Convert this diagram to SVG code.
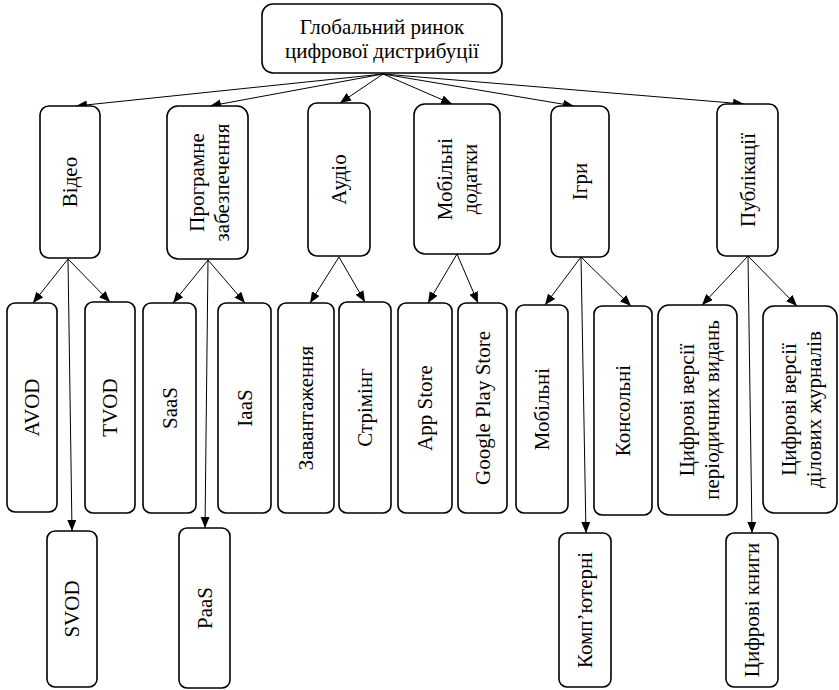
<svg xmlns="http://www.w3.org/2000/svg" width="839" height="690" viewBox="0 0 839 690">
<defs>
<style>
.box{fill:#fff;stroke:#000;stroke-width:1.6}
.t{font-family:"Liberation Serif","Times New Roman",serif;font-size:21px;fill:#000;text-anchor:middle}
.tt{font-family:"Liberation Serif","Times New Roman",serif;font-size:21px;fill:#000;text-anchor:middle}
.c{stroke:#000;stroke-width:1;fill:none;marker-end:url(#ah)}
</style>
<marker id="ah" markerUnits="userSpaceOnUse" markerWidth="12" markerHeight="10" refX="11" refY="4.5" orient="auto">
<path d="M0,0 L11,4.5 L0,9 z" fill="#000"/>
</marker>
</defs>
<rect width="839" height="690" fill="#fff"/>
<g id="connectors">
<line class="c" x1="383" y1="74" x2="76" y2="106"/>
<line class="c" x1="383" y1="74" x2="210" y2="106"/>
<line class="c" x1="383" y1="74" x2="340" y2="103"/>
<line class="c" x1="383" y1="74" x2="452" y2="104"/>
<line class="c" x1="383" y1="74" x2="574" y2="106"/>
<line class="c" x1="383" y1="74" x2="744" y2="104"/>
<line class="c" x1="68" y1="259" x2="33" y2="303"/>
<line class="c" x1="68" y1="259" x2="110" y2="302"/>
<line class="c" x1="68" y1="259" x2="72" y2="531"/>
<line class="c" x1="208" y1="260" x2="173" y2="303"/>
<line class="c" x1="208" y1="260" x2="245" y2="303"/>
<line class="c" x1="208" y1="260" x2="205" y2="528"/>
<line class="c" x1="339" y1="257" x2="310" y2="303"/>
<line class="c" x1="339" y1="257" x2="365" y2="302"/>
<line class="c" x1="457" y1="254" x2="428" y2="303"/>
<line class="c" x1="457" y1="254" x2="478" y2="303"/>
<line class="c" x1="581" y1="257" x2="545" y2="305"/>
<line class="c" x1="581" y1="257" x2="631" y2="306"/>
<line class="c" x1="581" y1="257" x2="586" y2="533"/>
<line class="c" x1="748" y1="256" x2="702" y2="305"/>
<line class="c" x1="748" y1="256" x2="797" y2="306"/>
<line class="c" x1="748" y1="256" x2="752" y2="533"/>
</g>
<g id="root"><rect class="box" x="262" y="4" width="240" height="69" rx="11"/><text class="tt" x="382" y="33.5">Глобальний ринок</text><text class="tt" x="382" y="57.5">цифрової дистрибуції</text></g>
<g id="video"><rect class="box" x="40" y="106" width="60" height="152" rx="9"/><text class="t" transform="translate(70,182) rotate(-90)" y="7">Відео</text></g>
<g id="software"><rect class="box" x="167" y="106" width="81" height="153" rx="11"/><text class="t" transform="translate(208.5,182.5) rotate(-90)"><tspan x="0" y="-5">Програмне</tspan><tspan x="0" y="20">забезпечення</tspan></text></g>
<g id="audio"><rect class="box" x="308" y="103" width="62" height="153" rx="9"/><text class="t" transform="translate(339,179.5) rotate(-90)" y="7">Аудіо</text></g>
<g id="mobileapps"><rect class="box" x="414" y="104" width="86" height="150" rx="11"/><text class="t" transform="translate(457,179) rotate(-90)"><tspan x="0" y="-5">Мобільні</tspan><tspan x="0" y="20">додатки</tspan></text></g>
<g id="games"><rect class="box" x="551" y="106" width="58" height="151" rx="9"/><text class="t" transform="translate(580,181.5) rotate(-90)" y="7">Ігри</text></g>
<g id="publications"><rect class="box" x="717" y="104" width="61" height="152" rx="9"/><text class="t" transform="translate(747.5,180) rotate(-90)" y="7">Публікації</text></g>
<g id="avod"><rect class="box" x="7" y="303" width="50" height="209" rx="8"/><text class="t" transform="translate(32,407.5) rotate(-90)" y="7">AVOD</text></g>
<g id="tvod"><rect class="box" x="85" y="302" width="50" height="211" rx="8"/><text class="t" transform="translate(110,407.5) rotate(-90)" y="7">TVOD</text></g>
<g id="saas"><rect class="box" x="143" y="303" width="53" height="210" rx="8"/><text class="t" transform="translate(169.5,408) rotate(-90)" y="7">SaaS</text></g>
<g id="iaas"><rect class="box" x="218" y="303" width="53" height="210" rx="8"/><text class="t" transform="translate(244.5,408) rotate(-90)" y="7">IaaS</text></g>
<g id="download"><rect class="box" x="278" y="303" width="56" height="210" rx="8"/><text class="t" transform="translate(306,408) rotate(-90)" y="7">Завантаження</text></g>
<g id="streaming"><rect class="box" x="339" y="302" width="52" height="211" rx="8"/><text class="t" transform="translate(365,407.5) rotate(-90)" y="7">Стрімінг</text></g>
<g id="appstore"><rect class="box" x="398" y="303" width="54" height="210" rx="8"/><text class="t" transform="translate(425,408) rotate(-90)" y="7">App Store</text></g>
<g id="googleplay"><rect class="box" x="458" y="303" width="49" height="210" rx="8"/><text class="t" transform="translate(482.5,408) rotate(-90)" y="7">Google Play Store</text></g>
<g id="mobilegames"><rect class="box" x="516" y="305" width="52" height="208" rx="8"/><text class="t" transform="translate(542,409) rotate(-90)" y="7">Мобільні</text></g>
<g id="consolegames"><rect class="box" x="594" y="306" width="58" height="209" rx="8"/><text class="t" transform="translate(623,410.5) rotate(-90)" y="7">Консольні</text></g>
<g id="periodicals"><rect class="box" x="658" y="305" width="79" height="210" rx="11"/><text class="t" transform="translate(699,410) rotate(-90)"><tspan x="0" y="-5">Цифрові версії</tspan><tspan x="0" y="20">періодичних видань</tspan></text></g>
<g id="journals"><rect class="box" x="763" y="306" width="74" height="207" rx="11"/><text class="t" transform="translate(801,409.5) rotate(-90)"><tspan x="0" y="-5">Цифрові версії</tspan><tspan x="0" y="20">ділових журналів</tspan></text></g>
<g id="svod"><rect class="box" x="47" y="531" width="50" height="156" rx="8"/><text class="t" transform="translate(72,609) rotate(-90)" y="7">SVOD</text></g>
<g id="paas"><rect class="box" x="179" y="528" width="51" height="160" rx="8"/><text class="t" transform="translate(204.5,608) rotate(-90)" y="7">PaaS</text></g>
<g id="pcgames"><rect class="box" x="559" y="533" width="52" height="154" rx="8"/><text class="t" transform="translate(585,610) rotate(-90)" y="7">Комп’ютерні</text></g>
<g id="ebooks"><rect class="box" x="726" y="533" width="52" height="154" rx="8"/><text class="t" transform="translate(752,610) rotate(-90)" y="7">Цифрові книги</text></g>
</svg>
